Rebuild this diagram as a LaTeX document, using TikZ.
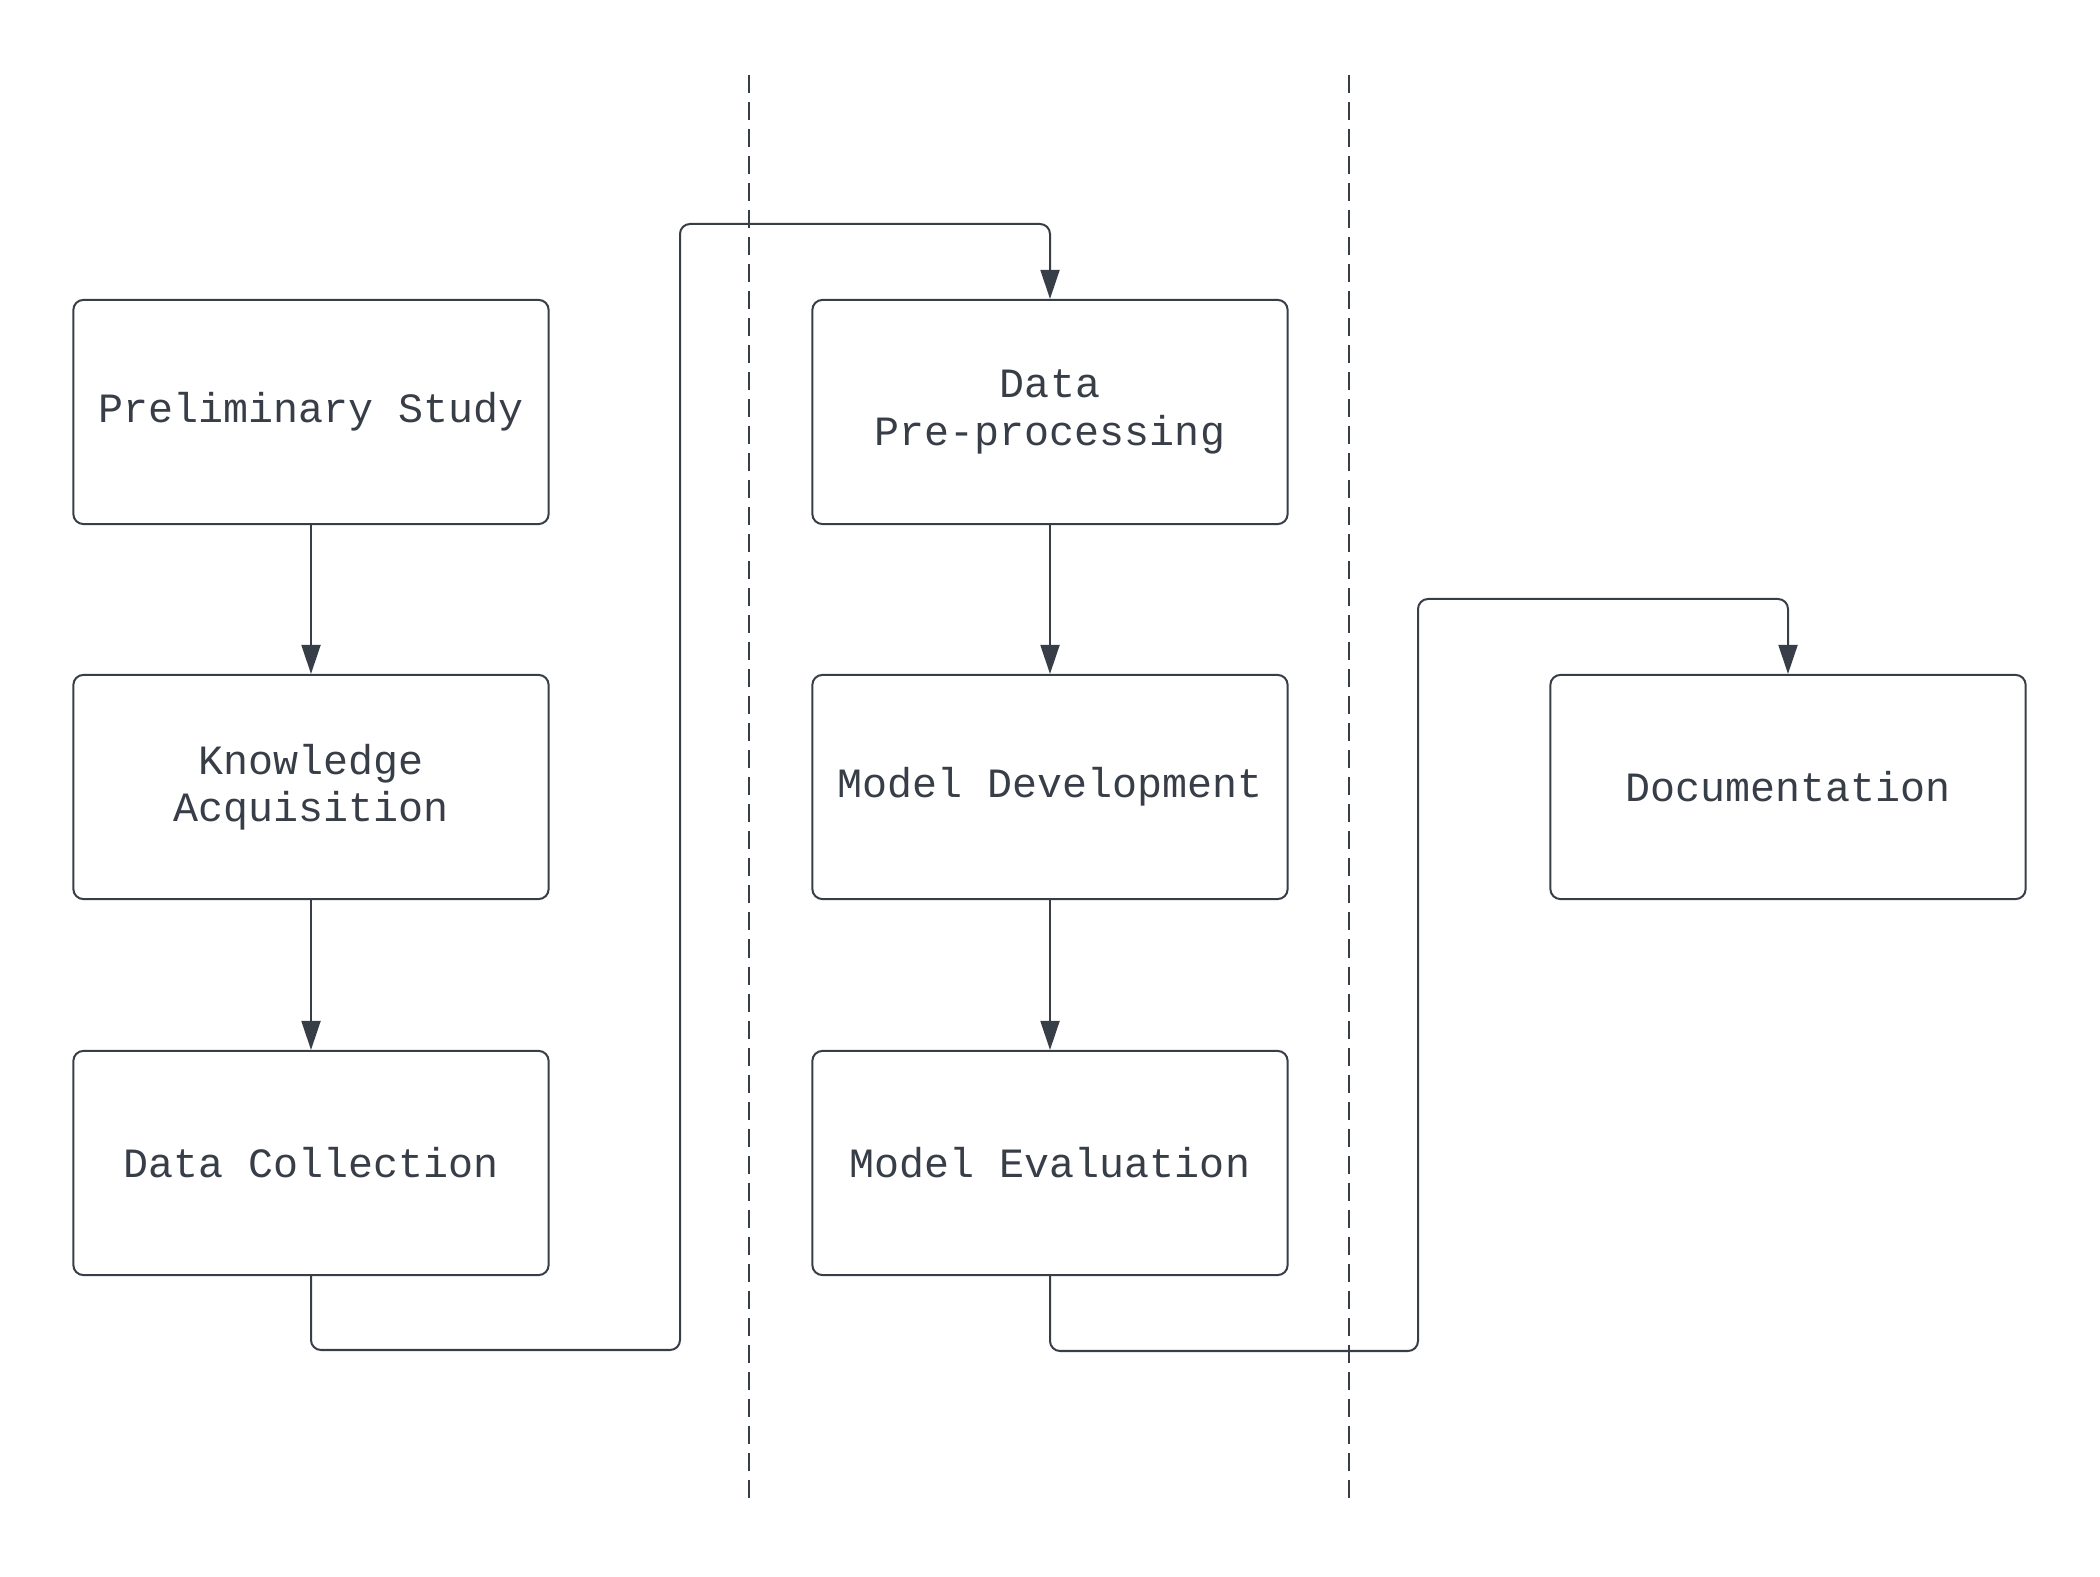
\documentclass[tikz,border=0pt]{standalone}
\usepackage{fontspec}
\setmonofont{Liberation Mono}
\usetikzlibrary{arrows.meta}

\definecolor{slate}{RGB}{56,62,72}

\tikzset{
    stage/.style={draw=slate, line width=0.57pt, rounded corners=1mm,
        minimum width=4.75cm, minimum height=2.24cm, align=center,
        text=slate, font=\ttfamily\fontsize{11.85}{13.4}\selectfont},
    flow/.style={draw=slate, line width=0.57pt, rounded corners=1mm,
        -{Triangle[length=2.9mm,width=1.9mm]}},
    divider/.style={draw=slate, line width=0.5pt, dash pattern=on 1.8mm off 0.9mm}
}

\begin{document}
\begin{tikzpicture}[x=0.01cm, y=-0.01cm]
\useasboundingbox (0,0) rectangle (2100,1577);

% phase dividers
\draw[divider] (749,75) -- (749,1500);
\draw[divider] (1349,75) -- (1349,1500);

% first column
\node[stage] (study) at (311,412) {Preliminary Study};
\node[stage] (knowledge) at (311,787) {Knowledge\\Acquisition};
\node[stage] (collect) at (311,1163) {Data Collection};

% second column
\node[stage] (prep) at (1050,412) {Data\\Pre-processing};
\node[stage] (develop) at (1050,787) {Model Development};
\node[stage] (evaluate) at (1050,1163) {Model Evaluation};

% third column
\node[stage] (docs) at (1788,787) {Documentation};

% bends of the long connectors
\coordinate (low1) at (680,1350);
\coordinate (high1) at (680,224);
\coordinate (low2) at (1418,1351);
\coordinate (high2) at (1418,599);

\draw[flow] (study) -- (knowledge);
\draw[flow] (knowledge) -- (collect);
\draw[flow] (collect.south) |- (low1) -- (high1) -| (prep.north);
\draw[flow] (prep) -- (develop);
\draw[flow] (develop) -- (evaluate);
\draw[flow] (evaluate.south) |- (low2) -- (high2) -| (docs.north);

\end{tikzpicture}
\end{document}
